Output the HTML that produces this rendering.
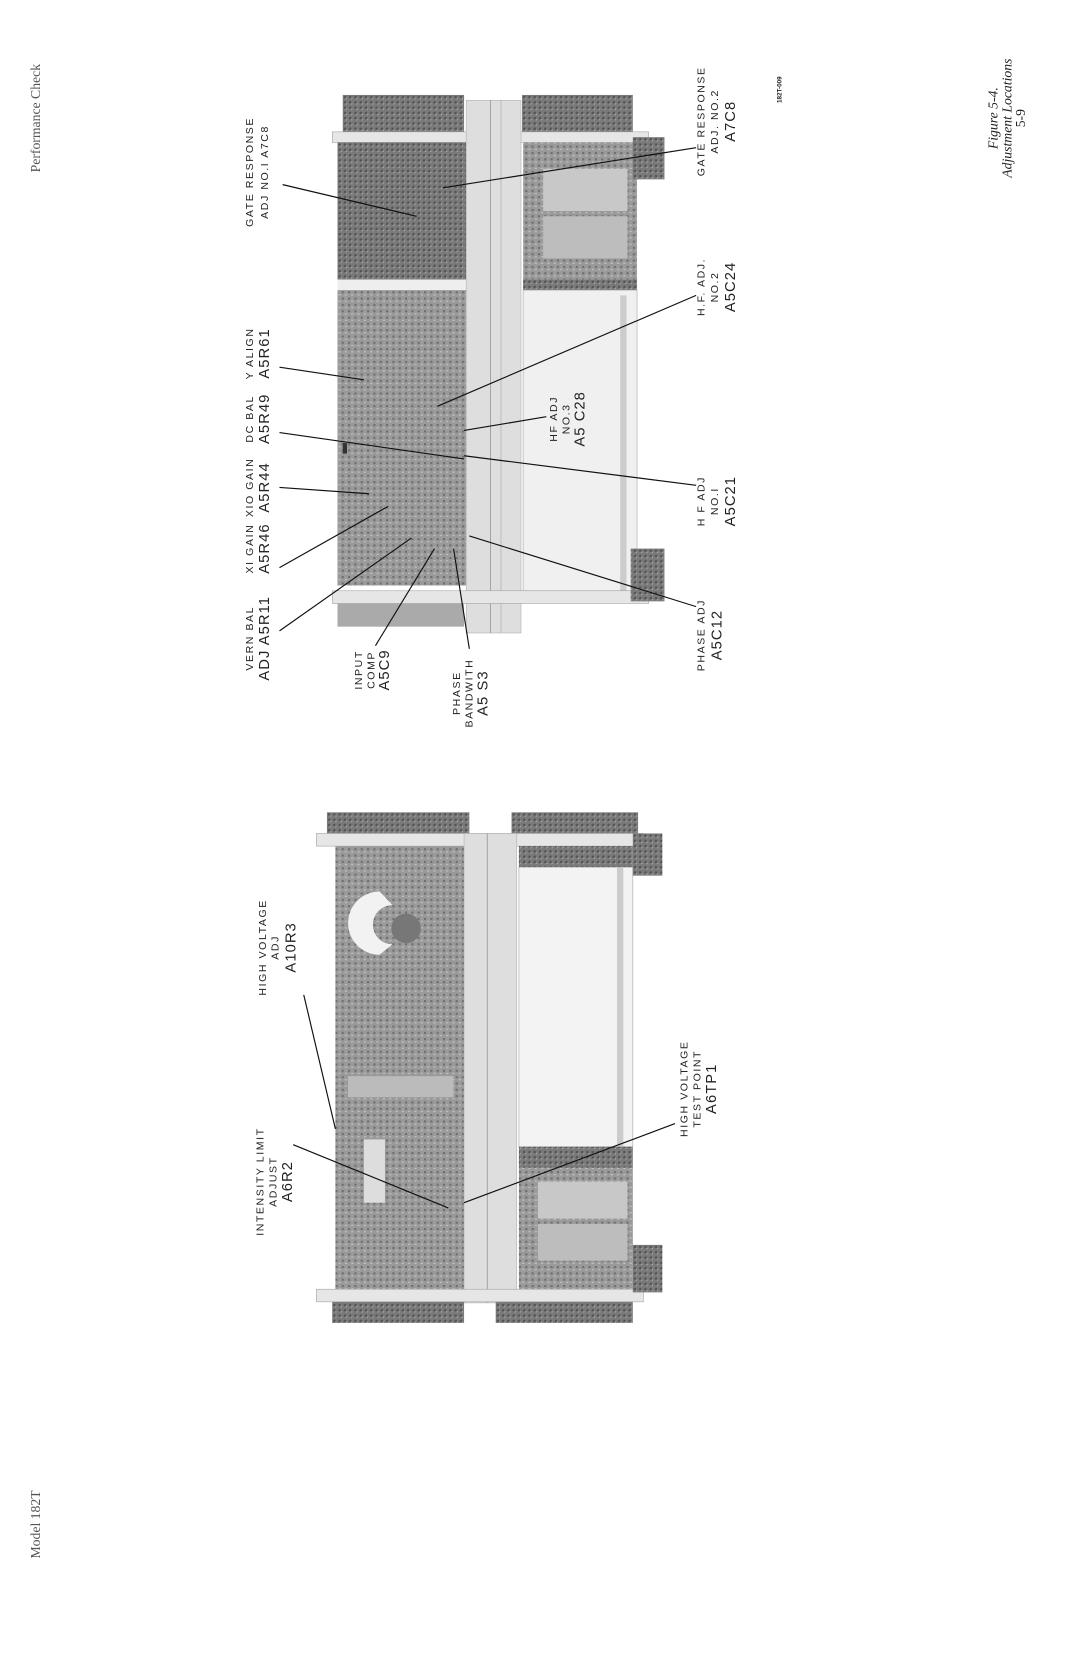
<!DOCTYPE html>
<html><head><meta charset="utf-8"><style>
html,body{margin:0;padding:0;background:#fff;}
svg{display:block;}
text{font-family:"Liberation Sans",sans-serif;fill:#222;}
.s{font-size:10px;letter-spacing:1.5px;}
.b{font-size:14px;letter-spacing:1px;}
.it{font-family:"Liberation Serif",serif;font-style:italic;font-size:13px;}
.sf{font-family:"Liberation Serif",serif;font-size:13px;fill:#555;}
line.l{stroke:#111;stroke-width:1.1;}
</style></head><body>
<svg width="1080" height="1669" viewBox="0 0 1024 1582" preserveAspectRatio="none" xmlns="http://www.w3.org/2000/svg">
<defs>
<pattern id="pcb" width="6" height="6" patternUnits="userSpaceOnUse">
<rect width="6" height="6" fill="#9a9a9a"/><rect x="0" y="0" width="2" height="2" fill="#6e6e6e"/><rect x="3" y="3" width="2" height="1" fill="#c8c8c8"/>
</pattern>
<pattern id="dk" width="5" height="5" patternUnits="userSpaceOnUse">
<rect width="5" height="5" fill="#7a7a7a"/><rect x="1" y="1" width="2" height="2" fill="#505050"/><rect x="3" y="3" width="1" height="1" fill="#bbb"/>
</pattern>
</defs>
<g transform="translate(38,112) rotate(-90)"><text class="sf" text-anchor="middle">Performance Check</text></g>
<g transform="translate(38,1445) rotate(-90)"><text class="sf" text-anchor="middle">Model 182T</text></g>
<g transform="translate(946,112) rotate(-90)"><text class="it" text-anchor="middle"><tspan x="0" dy="0">Figure 5-4.</tspan><tspan x="0" dy="13">Adjustment Locations</tspan><tspan x="0" dy="13" font-style="normal">5-9</tspan></text></g>
<g transform="translate(741,85) rotate(-90)"><text text-anchor="middle" style="font-size:6px;font-weight:bold">182T-009</text></g>

<!-- TOP PHOTO -->
<rect x="325" y="90" width="115" height="35" fill="url(#dk)"/>
<rect x="495" y="90" width="105" height="35" fill="url(#dk)"/>
<rect x="315" y="125" width="300" height="10" fill="#e6e6e6" stroke="#999" stroke-width="0.5"/>
<rect x="320" y="135" width="122" height="130" fill="url(#dk)"/>
<rect x="320" y="265" width="122" height="10" fill="#eee"/>
<rect x="320" y="275" width="122" height="280" fill="url(#pcb)"/>
<rect x="442" y="95" width="52" height="505" fill="#dedede" stroke="#aaa" stroke-width="0.5"/>
<line x1="465" y1="95" x2="465" y2="600" stroke="#999" stroke-width="0.8"/>
<line x1="475" y1="95" x2="475" y2="600" stroke="#aaa" stroke-width="0.6"/>
<rect x="496" y="135" width="108" height="130" fill="url(#pcb)"/>
<rect x="515" y="160" width="80" height="40" fill="#c8c8c8"/><rect x="515" y="205" width="80" height="40" fill="#bdbdbd"/>
<rect x="496" y="265" width="108" height="10" fill="url(#dk)"/>
<rect x="496" y="275" width="108" height="285" fill="#f0f0f0" stroke="#aaa" stroke-width="0.6"/>
<rect x="588" y="280" width="6" height="280" fill="#ccc"/>
<rect x="315" y="560" width="300" height="12" fill="#e6e6e6" stroke="#999" stroke-width="0.5"/>
<rect x="320" y="572" width="120" height="22" fill="#aaa"/>
<rect x="600" y="130" width="30" height="40" fill="url(#dk)"/>
<rect x="598" y="520" width="32" height="50" fill="url(#dk)"/>
<rect x="325" y="420" width="4" height="10" fill="#333"/>

<!-- BOTTOM PHOTO -->
<rect x="310" y="770" width="135" height="20" fill="url(#dk)"/>
<rect x="485" y="770" width="120" height="20" fill="url(#dk)"/>
<rect x="300" y="790" width="310" height="12" fill="#e6e6e6" stroke="#999" stroke-width="0.5"/>
<rect x="318" y="802" width="122" height="420" fill="url(#pcb)"/>
<path d="M360 845 A30 30 0 0 0 360 905 L372 895 A18 18 0 0 1 372 858 Z" fill="#f2f2f2"/>
<circle cx="385" cy="880" r="14" fill="#777"/>
<rect x="330" y="1020" width="100" height="20" fill="#bbb"/>
<rect x="345" y="1080" width="20" height="60" fill="#ddd"/>
<rect x="440" y="790" width="50" height="445" fill="#dedede" stroke="#aaa" stroke-width="0.5"/>
<line x1="462" y1="790" x2="462" y2="1235" stroke="#999" stroke-width="0.8"/>
<rect x="492" y="802" width="108" height="20" fill="url(#dk)"/>
<rect x="492" y="822" width="108" height="265" fill="#f3f3f3" stroke="#aaa" stroke-width="0.6"/>
<rect x="585" y="822" width="6" height="265" fill="#ccc"/>
<rect x="492" y="1087" width="108" height="20" fill="url(#dk)"/>
<rect x="492" y="1107" width="108" height="115" fill="url(#pcb)"/>
<rect x="510" y="1120" width="85" height="35" fill="#c8c8c8"/><rect x="510" y="1160" width="85" height="35" fill="#bdbdbd"/>
<rect x="300" y="1222" width="310" height="12" fill="#e6e6e6" stroke="#999" stroke-width="0.5"/>
<rect x="315" y="1234" width="125" height="20" fill="url(#dk)"/>
<rect x="470" y="1234" width="130" height="20" fill="url(#dk)"/>
<rect x="600" y="790" width="28" height="40" fill="url(#dk)"/>
<rect x="600" y="1180" width="28" height="45" fill="url(#dk)"/>

<line class="l" x1="268" y1="175" x2="395" y2="205"/>
<line class="l" x1="660" y1="140" x2="420" y2="178"/>
<line class="l" x1="265" y1="348" x2="345" y2="360"/>
<line class="l" x1="265" y1="410" x2="440" y2="435"/>
<line class="l" x1="265" y1="462" x2="350" y2="468"/>
<line class="l" x1="265" y1="538" x2="368" y2="480"/>
<line class="l" x1="265" y1="598" x2="390" y2="510"/>
<line class="l" x1="356" y1="612" x2="412" y2="520"/>
<line class="l" x1="445" y1="615" x2="430" y2="520"/>
<line class="l" x1="660" y1="280" x2="415" y2="385"/>
<line class="l" x1="518" y1="395" x2="440" y2="408"/>
<line class="l" x1="660" y1="460" x2="440" y2="432"/>
<line class="l" x1="660" y1="575" x2="445" y2="508"/>
<line class="l" x1="288" y1="943" x2="318" y2="1070"/>
<line class="l" x1="278" y1="1085" x2="425" y2="1145"/>
<line class="l" x1="640" y1="1065" x2="440" y2="1140"/>

<g transform="translate(240,163) rotate(-90)"><text text-anchor="middle" class="s"><tspan x="0">GATE RESPONSE</tspan><tspan x="0" dy="14">ADJ NO.I A7C8</tspan></text></g>
<g transform="translate(240,335) rotate(-90)"><text text-anchor="middle" class="s"><tspan x="0">Y ALIGN</tspan><tspan x="0" dy="15" class="b">A5R61</tspan></text></g>
<g transform="translate(240,397) rotate(-90)"><text text-anchor="middle" class="s"><tspan x="0">DC BAL</tspan><tspan x="0" dy="15" class="b">A5R49</tspan></text></g>
<g transform="translate(240,462) rotate(-90)"><text text-anchor="middle" class="s"><tspan x="0">XIO GAIN</tspan><tspan x="0" dy="15" class="b">A5R44</tspan></text></g>
<g transform="translate(240,520) rotate(-90)"><text text-anchor="middle" class="s"><tspan x="0">XI GAIN</tspan><tspan x="0" dy="15" class="b">A5R46</tspan></text></g>
<g transform="translate(240,605) rotate(-90)"><text text-anchor="middle" class="s"><tspan x="0">VERN BAL</tspan><tspan x="0" dy="15" class="b">ADJ A5R11</tspan></text></g>
<g transform="translate(343,635) rotate(-90)"><text text-anchor="middle" class="s"><tspan x="0">INPUT</tspan><tspan x="0" dy="12">COMP</tspan><tspan x="0" dy="14" class="b">A5C9</tspan></text></g>
<g transform="translate(436,657) rotate(-90)"><text text-anchor="middle" class="s"><tspan x="0">PHASE</tspan><tspan x="0" dy="12">BANDWITH</tspan><tspan x="0" dy="14" class="b">A5 S3</tspan></text></g>
<g transform="translate(528,397) rotate(-90)"><text text-anchor="middle" class="s"><tspan x="0">HF ADJ</tspan><tspan x="0" dy="12">NO.3</tspan><tspan x="0" dy="14" class="b">A5 C28</tspan></text></g>
<g transform="translate(668,115) rotate(-90)"><text text-anchor="middle" class="s"><tspan x="0">GATE RESPONSE</tspan><tspan x="0" dy="13">ADJ. NO.2</tspan><tspan x="0" dy="16" class="b">A7C8</tspan></text></g>
<g transform="translate(668,272) rotate(-90)"><text text-anchor="middle" class="s"><tspan x="0">H.F. ADJ.</tspan><tspan x="0" dy="13">NO.2</tspan><tspan x="0" dy="16" class="b">A5C24</tspan></text></g>
<g transform="translate(668,475) rotate(-90)"><text text-anchor="middle" class="s"><tspan x="0">H F ADJ</tspan><tspan x="0" dy="13">NO.I</tspan><tspan x="0" dy="16" class="b">A5C21</tspan></text></g>
<g transform="translate(668,602) rotate(-90)"><text text-anchor="middle" class="s"><tspan x="0">PHASE ADJ</tspan><tspan x="0" dy="16" class="b">A5C12</tspan></text></g>

<g transform="translate(252,898) rotate(-90)"><text text-anchor="middle" class="s"><tspan x="0">HIGH VOLTAGE</tspan><tspan x="0" dy="12">ADJ</tspan><tspan x="0" dy="16" class="b">A10R3</tspan></text></g>
<g transform="translate(250,1120) rotate(-90)"><text text-anchor="middle" class="s"><tspan x="0">INTENSITY LIMIT</tspan><tspan x="0" dy="12">ADJUST</tspan><tspan x="0" dy="15" class="b">A6R2</tspan></text></g>
<g transform="translate(652,1032) rotate(-90)"><text text-anchor="middle" class="s"><tspan x="0">HIGH VOLTAGE</tspan><tspan x="0" dy="12">TEST POINT</tspan><tspan x="0" dy="15" class="b">A6TP1</tspan></text></g>
</svg>
</body></html>
